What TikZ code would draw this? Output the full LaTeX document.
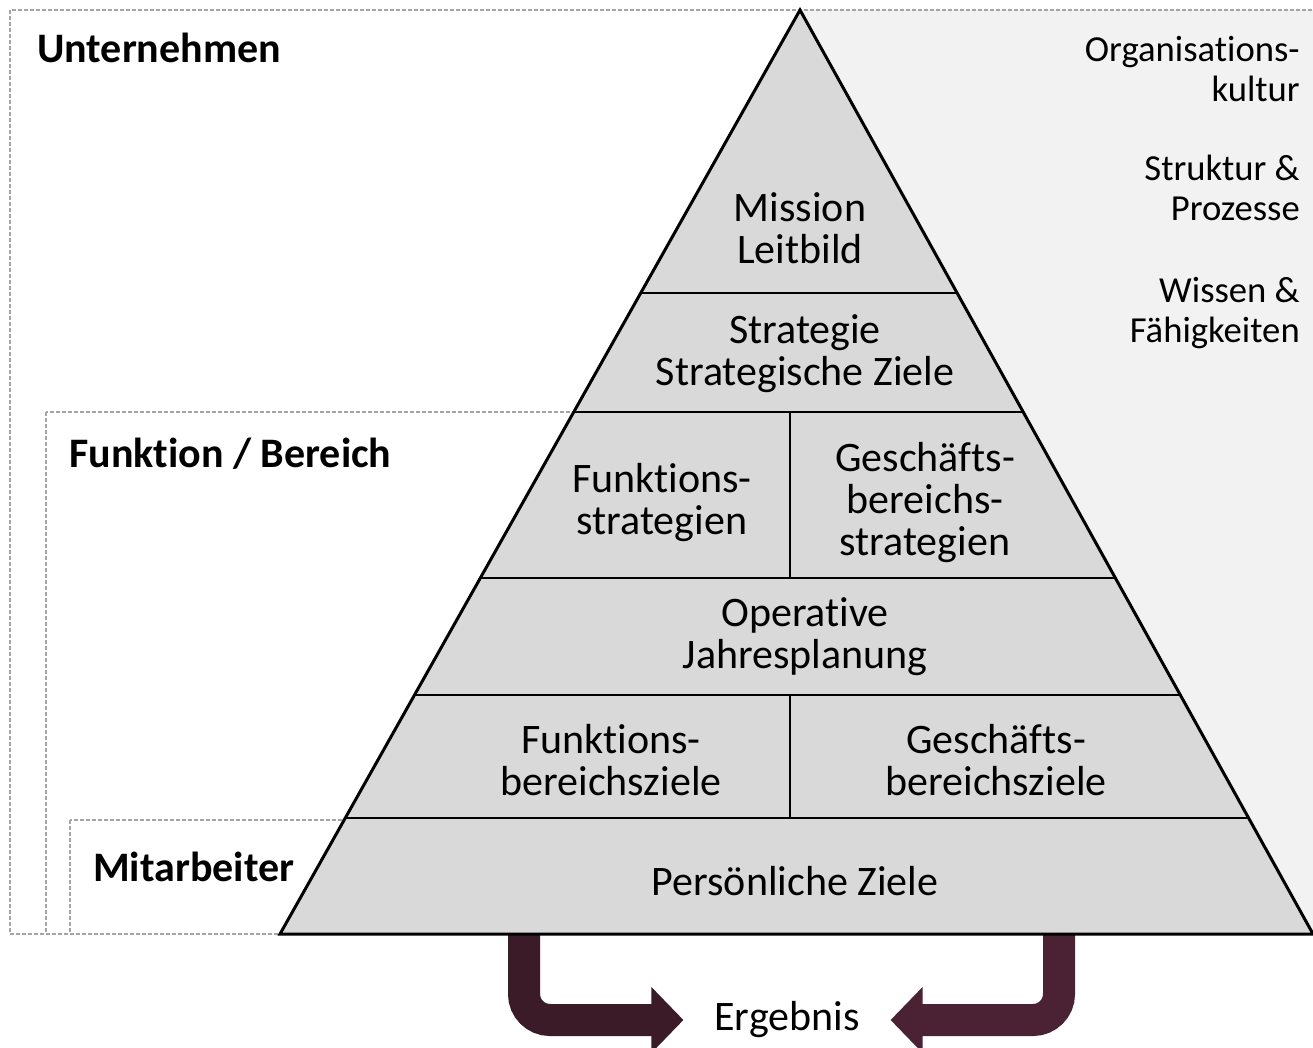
\documentclass[tikz,border=0pt]{standalone}
\usepackage{fontspec}
\setmainfont[Ligatures=NoCommon]{Carlito}
\usetikzlibrary{arrows.meta}

\newlength{\du}
\setlength{\du}{0.75pt}

\definecolor{pyrfill}{RGB}{217,217,217}
\definecolor{panelfill}{RGB}{242,242,242}
\definecolor{framegray}{RGB}{165,165,165}
\definecolor{arrowleft}{RGB}{58,27,39}
\definecolor{arrowright}{RGB}{74,34,52}

\tikzset{
  pyrtext/.style={align=center, inner sep=0pt, font=\fontsize{31.5}{31.5}\selectfont},
  sidetext/.style={align=right, anchor=east, inner sep=0pt, font=\fontsize{27.5}{30}\selectfont},
  lbltext/.style={anchor=west, inner sep=0pt, font=\bfseries\fontsize{31.5}{31.5}\selectfont},
  dashframe/.style={draw=framegray, line width=1.3\du, dash pattern=on 4\du off 2\du},
  resarrow/.style={line width=24pt, rounded corners=19.5pt, -{Triangle[length=24pt, width=48pt]}},
}

\begin{document}
\begin{tikzpicture}
\pgftransformyscale{-1.000000}
\useasboundingbox (0\du,0\du) rectangle (1313\du,1048\du);
\clip (0\du,0\du) rectangle (1313\du,1048\du);
% grey panel behind the right side
\fill[panelfill] (800\du,10\du) rectangle (1313\du,934\du);
% levels
\draw[dashframe] (10\du,10\du) rectangle (1330\du,934\du);
\draw[dashframe] (46\du,412\du) rectangle (800\du,934\du);
\draw[dashframe] (70\du,820\du) rectangle (800\du,934\du);
% result
\node[pyrtext, outer sep=31\du] (erg) at (787\du,1020\du) {Ergebnis};
\coordinate (lfoot) at (524\du,934\du);
\coordinate (rfoot) at (1059\du,934\du);
\draw[resarrow, arrowleft] (lfoot) |- (erg.west);
\draw[resarrow, arrowright] (rfoot) |- (erg.east);
% pyramid
\draw[fill=pyrfill, line width=3\du, line join=miter] (800\du,10\du)--(280\du,934\du)--(1313\du,934\du)--cycle;
\draw[line width=2.5\du] (640.7\du,293\du)--(957.1\du,293\du);
\draw[line width=2.5\du] (573.8\du,412\du)--(1023.2\du,412\du);
\draw[line width=2.5\du] (480.4\du,578\du)--(1115.3\du,578\du);
\draw[line width=2.5\du] (414.5\du,695\du)--(1180.3\du,695\du);
\draw[line width=2.5\du] (345.3\du,818\du)--(1248.6\du,818\du);
\draw[line width=2.5\du] (790\du,412\du)--(790\du,578\du);
\draw[line width=2.5\du] (790\du,695\du)--(790\du,818\du);
\node[pyrtext] (mission) at (800\du,228\du) {Mission\\Leitbild};
\node[pyrtext] (strategie) at (805\du,354\du) {Strategie\\Strategische Ziele};
\node[pyrtext] (funkstrat) at (662\du,503\du) {Funktions-\\strategien};
\node[pyrtext] (gbstrat) at (925\du,503\du) {Geschäfts-\\bereichs-\\strategien};
\node[pyrtext] (operativ) at (805\du,637\du) {Operative\\Jahresplanung};
\node[pyrtext] (funkziele) at (611\du,760\du) {Funktions-\\bereichsziele};
\node[pyrtext] (gbziele) at (996\du,760\du) {Geschäfts-\\bereichsziele};
\node[pyrtext] (persziele) at (795\du,881\du) {Persönliche Ziele};
% side texts
\node[sidetext] (kultur) at (1300\du,69\du) {Organisations-\\kultur};
\node[sidetext] (struktur) at (1300\du,188\du) {Struktur \&\\Prozesse};
\node[sidetext] (wissen) at (1300\du,313\du) {Wissen \&\\Fähigkeiten};
\node[lbltext] (lblunt) at (37\du,48\du) {Unternehmen};
\node[lbltext] (lblfunk) at (69\du,454\du) {Funktion / Bereich};
\node[lbltext] (lblmit) at (93\du,867\du) {Mitarbeiter};
\end{tikzpicture}
\end{document}
